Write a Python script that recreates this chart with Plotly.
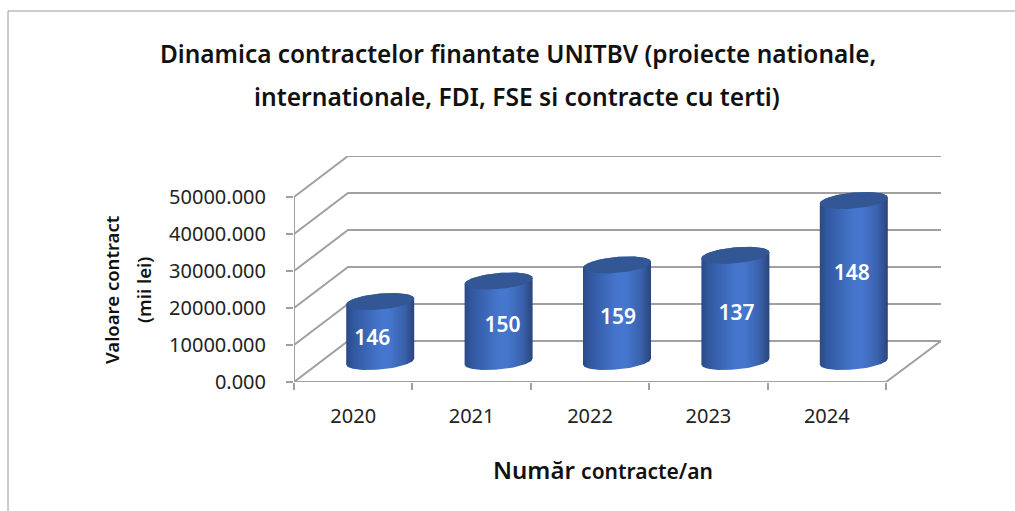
import numpy as np
import plotly.graph_objects as go

years = ["2020", "2021", "2022", "2023", "2024"]
contract_values = [16200, 21750, 26100, 28700, 43500]
contract_counts = ["146", "150", "159", "137", "148"]
y_ticks = [0, 10000, 20000, 30000, 40000, 50000]

# page geometry of the 3D-looking plot box
W, H = 1015, 511
L, R, T, B = 294, 941, 156, 382
CAT_PX = 118.4
VAL_PX = 37 / 10000
DEPTH_X = 54 / CAT_PX
DEPTH_Y = 41 / VAL_PX
RADIUS = 34 / CAT_PX
CAP_B = 8 / VAL_PX
CAP_K = 3 / VAL_PX
GRID = "#a0a0a0"
FONT = "Noto Sans"
label_nudge_x = [-8, 4, 1, 1, -2]
label_nudge_y = [-8, -5, -6, -6, 6]

x_min = -0.5
x_front_max = 4.5
x_max = x_min + (R - L) / CAT_PX
y_max = (B - T) / VAL_PX

fig = go.Figure()

def line(xs, ys):
    fig.add_trace(go.Scatter(x=xs, y=ys, mode="lines", hoverinfo="skip",
                             line=dict(color=GRID, width=2)))

# walls and floor
for v in y_ticks:
    line([x_min, x_min + DEPTH_X, x_max], [v, v + DEPTH_Y, v + DEPTH_Y])
line([x_min, x_min], [0, y_ticks[-1]])
line([x_min, x_front_max, x_max], [0, 0, DEPTH_Y])

# cylinders
cx = [i + DEPTH_X / 2 for i in range(len(years))]
y0 = DEPTH_Y / 2
grad = [[0, "#2a4a86"], [0.12, "#3259a2"], [0.5, "#4576cc"], [0.62, "#4677cf"],
        [0.85, "#3a62ad"], [1, "#2a4579"]]
for c, v in zip(cx, contract_values):
    t_low = np.linspace(np.pi, 2 * np.pi, 40)
    t_up = np.linspace(0, np.pi, 40)
    bx = c + RADIUS * np.cos(t_low)
    by = y0 + CAP_K * np.cos(t_low) + CAP_B * np.sin(t_low)
    ux = c + RADIUS * np.cos(t_up)
    uy = y0 + v + CAP_K * np.cos(t_up) + CAP_B * np.sin(t_up)
    fig.add_trace(go.Scatter(x=np.r_[bx, ux], y=np.r_[by, uy], mode="lines",
                             fill="toself", line=dict(width=0), hoverinfo="skip",
                             fillgradient=dict(type="horizontal", colorscale=grad)))
    t = np.linspace(0, 2 * np.pi, 80)
    fig.add_trace(go.Scatter(x=c + RADIUS * np.cos(t),
                             y=y0 + v + CAP_K * np.cos(t) + CAP_B * np.sin(t),
                             mode="lines", fill="toself", line=dict(width=0),
                             fillcolor="#335694", hoverinfo="skip"))

# data labels
fig.add_trace(go.Scatter(
    x=[c + nx / CAT_PX for c, nx in zip(cx, label_nudge_x)],
    y=[y0 + v / 2 + ny / VAL_PX for v, ny in zip(contract_values, label_nudge_y)],
    mode="text", text=contract_counts, hoverinfo="skip",
    textfont=dict(family=FONT, size=21, color="white", weight=600)))

# paper coordinates are relative to the plot box
px = lambda x: (x - L) / (R - L)
py = lambda y: (B - y) / (B - T)
def note(text, x, y, size, weight=600, angle=0):
    fig.add_annotation(text=text, x=px(x), y=py(y), xref="paper", yref="paper",
                       showarrow=False, xanchor="center", yanchor="middle", textangle=angle,
                       font=dict(family=FONT, size=size, color="#111111", weight=weight))

note("Dinamica contractelor finantate UNITBV (proiecte nationale,", 518, 54, 24.4)
note("internationale, FDI, FSE si contracte cu terti)", 517, 96, 24.6)
note("Valoare contract", 111, 290, 18.5, angle=-90)
note("(mii lei)", 143, 290, 18.5, angle=-90)
note('Număr <span style="font-size:21px">contracte/an</span>', 603, 469, 24)

fig.update_layout(
    width=W, height=H, autosize=False, showlegend=False,
    margin=dict(l=L, r=W - R, t=T, b=H - B),
    paper_bgcolor="white", plot_bgcolor="white",
    xaxis=dict(range=[x_min, x_max], tickvals=list(range(len(years))), ticktext=years,
               showgrid=False, zeroline=False, showline=False, ticks="",
               ticklabelstandoff=20,
               tickfont=dict(family=FONT, size=20, color="#222222"),
               minor=dict(tickvals=[i - 0.5 for i in range(len(years) + 1)], ticks="outside",
                          ticklen=7, tickwidth=2, tickcolor=GRID, showgrid=False)),
    yaxis=dict(range=[0, y_max], tickvals=y_ticks, tickformat=".3f",
               showgrid=False, zeroline=False, showline=False,
               ticks="outside", ticklen=7, tickwidth=2, tickcolor=GRID,
               ticklabelstandoff=16,
               tickfont=dict(family=FONT, size=20, color="#222222")),
    shapes=[dict(type="line", xref="paper", yref="paper", x0=px(8), x1=px(8), y0=py(511), y1=py(11),
                 line=dict(color="#9a9a9a", width=1)),
            dict(type="line", xref="paper", yref="paper", x0=px(8), x1=px(1015), y0=py(11), y1=py(11),
                 line=dict(color="#9a9a9a", width=1))],
)

fig.write_html("out.html", config=dict(displayModeBar=False),
               post_script="document.body.style.margin='0';")
